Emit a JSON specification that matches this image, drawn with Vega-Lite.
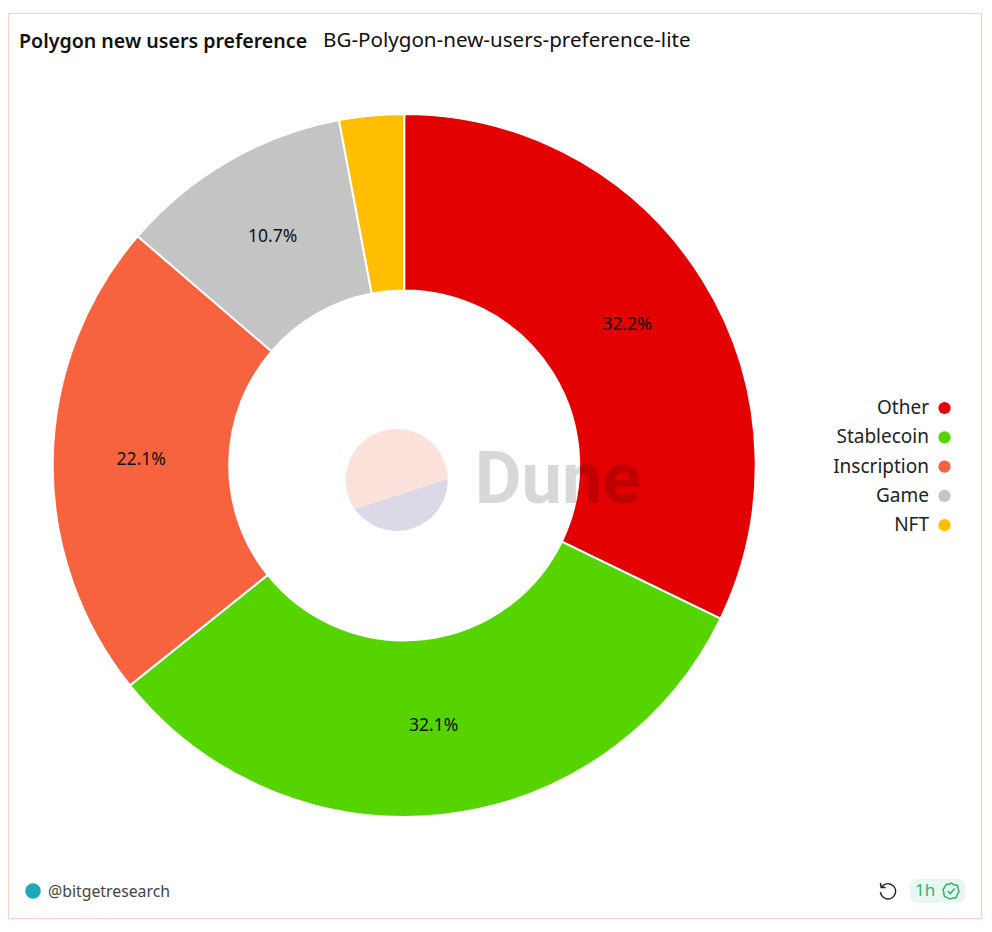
{"$schema":"https://vega.github.io/schema/vega-lite/v6.json","width":973,"height":905,"autosize":"none","padding":{"left":8,"top":13,"right":11,"bottom":14},"background":"white","config":{"view":{"stroke":"#ffcfc7","strokeWidth":1},"font":"Noto Sans"},"title":{"text":"Polygon new users preference","anchor":"start","frame":"group","offset":-40,"dx":11,"fontSize":19.6,"fontWeight":600,"font":"Noto Sans","color":"#111111"},"datasets":{"shares":[{"category":"Other","share":0.3218,"rank":1},{"category":"Stablecoin","share":0.3206,"rank":2},{"category":"Inscription","share":0.2206,"rank":3},{"category":"Game","share":0.1073,"rank":4},{"category":"NFT","share":0.0297,"rank":5}],"logo":[{"part":"upper"},{"part":"lower"}],"one":[{"n":1}]},"layer":[{"data":{"name":"shares"},"mark":{"type":"arc","innerRadius":175,"outerRadius":351.5,"stroke":"white","strokeWidth":2},"encoding":{"x":{"datum":396.2,"type":"quantitative","scale":{"domain":[0,973]},"axis":null},"y":{"datum":452.4,"type":"quantitative","scale":{"domain":[905,0]},"axis":null},"theta":{"field":"share","type":"quantitative","stack":true,"scale":{"domain":[0,1]}},"order":{"field":"rank"},"color":{"field":"category","type":"nominal","scale":{"domain":["Other","Stablecoin","Inscription","Game","NFT"],"range":["#e30000","#55d400","#f7623f","#c4c4c4","#ffbf00"]},"legend":{"title":null,"orient":"none","legendX":927,"legendY":385.5,"symbolType":"circle","symbolSize":150,"symbolStrokeWidth":0,"labelAlign":"right","labelOffset":-25,"labelFontSize":19,"labelFont":"Noto Sans","labelColor":"#222222","rowPadding":9.3,"labelLimit":200}}}},{"data":{"name":"shares"},"mark":{"type":"text","radius":263,"fontSize":17.5,"color":"#111111","font":"Noto Sans","dy":-0.5},"encoding":{"x":{"datum":396.2,"type":"quantitative","scale":{"domain":[0,973]},"axis":null},"y":{"datum":452.4,"type":"quantitative","scale":{"domain":[905,0]},"axis":null},"theta":{"field":"share","type":"quantitative","stack":true,"scale":{"domain":[0,1]}},"order":{"field":"rank"},"detail":{"field":"category"},"text":{"condition":{"test":"datum.share < 0.03","value":""},"field":"share","type":"quantitative","format":".1%"}}},{"data":{"name":"logo"},"mark":{"type":"point","filled":true,"size":10404,"opacity":1},"encoding":{"x":{"datum":388.7,"type":"quantitative","scale":{"domain":[0,973]},"axis":null},"y":{"datum":467,"type":"quantitative","scale":{"domain":[905,0]},"axis":null},"shape":{"field":"part","type":"nominal","scale":{"domain":["upper","lower"],"range":["M1,-0.02 A1,1 0 1 0 -0.82,0.57 Z","M1,-0.02 A1,1 0 0 1 -0.82,0.57 Z"]},"legend":null},"color":{"field":"part","type":"nominal","scale":{"domain":["upper","lower"],"range":["#fde2dc","#dbd9e6"]},"legend":null}}},{"data":{"name":"one"},"mark":{"type":"text","text":"Dune","font":"Roboto","fontWeight":"bold","fontSize":72,"color":"#000000","opacity":0.15,"align":"left","baseline":"middle"},"encoding":{"x":{"datum":466.8,"type":"quantitative","scale":{"domain":[0,973]},"axis":null},"y":{"datum":468,"type":"quantitative","scale":{"domain":[905,0]},"axis":null}}},{"data":{"name":"one"},"mark":{"type":"text","text":"BG-Polygon-new-users-preference-lite","fontSize":20.6,"color":"#111111","align":"left","baseline":"middle"},"encoding":{"x":{"datum":315,"type":"quantitative","scale":{"domain":[0,973]},"axis":null},"y":{"datum":28,"type":"quantitative","scale":{"domain":[905,0]},"axis":null}}},{"data":{"name":"one"},"mark":{"type":"point","shape":"circle","filled":true,"size":240,"color":"#1fa8b8","opacity":1},"encoding":{"x":{"datum":25,"type":"quantitative","scale":{"domain":[0,973]},"axis":null},"y":{"datum":878,"type":"quantitative","scale":{"domain":[905,0]},"axis":null}}},{"data":{"name":"one"},"mark":{"type":"text","text":"@bitgetresearch","fontSize":15.8,"color":"#444444","align":"left","baseline":"middle"},"encoding":{"x":{"datum":40,"type":"quantitative","scale":{"domain":[0,973]},"axis":null},"y":{"datum":878.5,"type":"quantitative","scale":{"domain":[905,0]},"axis":null}}},{"data":{"name":"one"},"mark":{"type":"point","shape":"M-0.75,-0.55 A0.95,0.95 0 1 1 -0.95,0.15 M-0.95,-1 L-0.85,-0.45 L-0.3,-0.45","filled":false,"size":256,"stroke":"#222222","strokeWidth":1.5,"opacity":1},"encoding":{"x":{"datum":880,"type":"quantitative","scale":{"domain":[0,973]},"axis":null},"y":{"datum":878,"type":"quantitative","scale":{"domain":[905,0]},"axis":null}}},{"data":{"name":"one"},"mark":{"type":"rect","color":"#e8f7ef","cornerRadius":7},"encoding":{"x":{"datum":902,"type":"quantitative","scale":{"domain":[0,973]},"axis":null},"x2":{"datum":957},"y":{"datum":866,"type":"quantitative","scale":{"domain":[905,0]},"axis":null},"y2":{"datum":890}}},{"data":{"name":"one"},"mark":{"type":"text","text":"1h","fontSize":17,"color":"#2fb56f","align":"left","baseline":"middle"},"encoding":{"x":{"datum":907,"type":"quantitative","scale":{"domain":[0,973]},"axis":null},"y":{"datum":878,"type":"quantitative","scale":{"domain":[905,0]},"axis":null}}},{"data":{"name":"one"},"mark":{"type":"point","shape":"M0,-1 L0.38,-0.78 L0.8,-0.7 L0.9,-0.28 L1,0.1 L0.78,0.45 L0.65,0.82 L0.25,0.88 L-0.12,1 L-0.5,0.82 L-0.85,0.62 L-0.9,0.2 L-1,-0.18 L-0.78,-0.5 L-0.6,-0.85 L-0.25,-0.85 Z M-0.4,0 L-0.1,0.32 L0.45,-0.3","filled":false,"size":256,"stroke":"#2fb56f","strokeWidth":1.5,"opacity":1},"encoding":{"x":{"datum":943,"type":"quantitative","scale":{"domain":[0,973]},"axis":null},"y":{"datum":878,"type":"quantitative","scale":{"domain":[905,0]},"axis":null}}}],"resolve":{"scale":{"theta":"independent","color":"independent","shape":"independent"}}}
